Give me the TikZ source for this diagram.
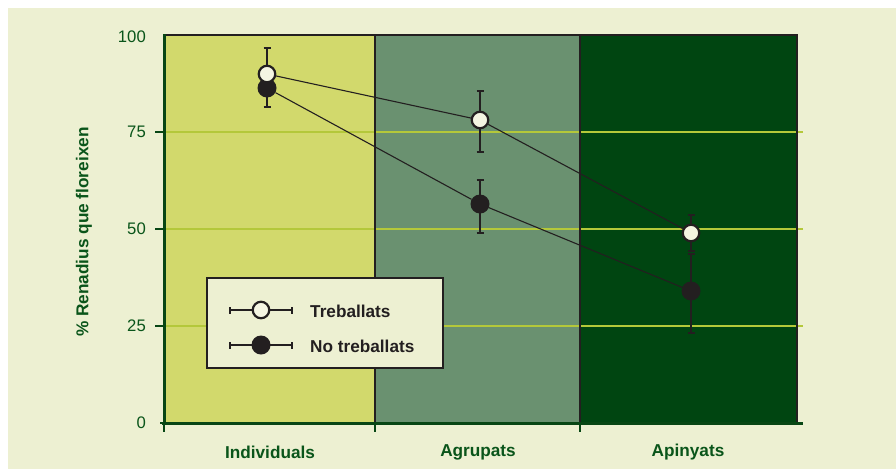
\documentclass[tikz,border=0pt]{standalone}
\usepackage{fontspec}
\setmainfont{Liberation Sans}
\definecolor{bgc}{RGB}{237,240,210}
\definecolor{yelp}{RGB}{210,217,108}
\definecolor{midp}{RGB}{106,145,112}
\definecolor{darkp}{RGB}{0,69,17}
\definecolor{gridc}{RGB}{180,200,58}
\definecolor{txtg}{RGB}{10,85,26}
\definecolor{axg}{RGB}{8,70,20}
\definecolor{ink}{RGB}{35,31,32}
\definecolor{mwhite}{RGB}{244,245,226}
\tikzset{
  openmark/.style={circle,draw=ink,line width=2.2pt,fill=mwhite,minimum size=16.5pt,inner sep=0pt},
  fullmark/.style={circle,fill=ink,minimum size=19pt,inner sep=0pt},
  series/.style={draw=ink,line width=1.1pt},
  errbar/.style={draw=ink,line width=1.3pt},
  gridline/.style={draw=gridc,line width=1.8pt},
  border/.style={draw=ink,line width=2.6pt},
  ticklab/.style={font=\fontsize{16.7}{18}\selectfont,text=txtg,anchor=east,inner sep=0pt},
  catlab/.style={font=\fontsize{17.2}{19}\selectfont\bfseries,text=txtg,inner sep=0pt},
  leglab/.style={font=\fontsize{17.2}{19}\selectfont\bfseries,text=ink,anchor=west,inner sep=0pt}
}
\newcommand{\ebar}[3]{%
  \draw[errbar] (#1,#2) -- (#1,#3);
  \draw[errbar] (#1-3.5,#2) -- (#1+3.5,#2);
  \draw[errbar] (#1-3.5,#3) -- (#1+3.5,#3);}
\begin{document}
\begin{tikzpicture}[x=1pt,y=-1pt]
\useasboundingbox (0,0) rectangle (896,469);
\fill[white] (0,0) rectangle (896,469);
\fill[bgc] (8,8) rectangle (896,469);
% panels
\fill[yelp] (164,35) rectangle (375,423);
\fill[midp] (375,35) rectangle (580,423);
\fill[darkp] (580,35) rectangle (797,423);
% grid lines
\foreach \yy in {132,229,326} \draw[gridline] (164,\yy) -- (803,\yy);
% borders
\draw[border] (164,35) -- (798,35);
\draw[border] (375,35) -- (375,423);
\draw[border] (580,35) -- (580,423);
\draw[border] (797,35) -- (797,423);
\draw[axg,line width=3pt] (164,34) -- (164,424);
\draw[axg,line width=3pt] (162,423) -- (803,423);
% ticks
\foreach \yy in {132,229,326} \draw[axg,line width=1.2pt] (155,\yy) -- (164,\yy);
\draw[axg,line width=1.2pt] (160,423) -- (164,423);
\foreach \xx in {164,375,580} \draw[axg,line width=1.2pt] (\xx,423) -- (\xx,432);
% tick labels
\node[ticklab] (t0) at (146,423) {0};
\node[ticklab] (t25) at (146,326) {25};
\node[ticklab] (t50) at (146,229) {50};
\node[ticklab] (t75) at (146,132) {75};
\node[ticklab] (t100) at (146,37) {100};
% axis label
\node[catlab,rotate=90] (ylab) at (84,232) {\% Renadius que floreixen};
% category labels
\node[catlab] (c1) at (270,452) {Individuals};
\node[catlab] (c2) at (478,452) {Agrupats};
\node[catlab] (c3) at (688,452) {Apinyats};
% error bars
\ebar{267}{48}{74}
\ebar{267}{88}{107}
\ebar{480}{91}{152}
\ebar{480}{180}{233}
\ebar{691}{215}{251}
\ebar{691}{254}{333}
% markers
\node[fullmark] (n1) at (267,88) {};
\node[fullmark] (n2) at (480,204) {};
\node[fullmark] (n3) at (691,291) {};
\node[openmark] (w1) at (267,74) {};
\node[openmark] (w2) at (480,120) {};
\node[openmark] (w3) at (691,233) {};
\draw[series] (n1) -- (n2) -- (n3);
\draw[series] (w1) -- (w2) -- (w3);
% legend
\draw[fill=bgc,draw=ink,line width=2.4pt] (207,278) rectangle (443,368);
\coordinate (la1) at (230,310); \coordinate (lb1) at (292,310);
\coordinate (la2) at (230,345); \coordinate (lb2) at (292,345);
\draw[series] (la1) -- (lb1);
\draw[series] (la2) -- (lb2);
\foreach \c in {la1,lb1,la2,lb2} \draw[ink,line width=1.1pt] ([yshift=-3.5pt]\c) -- ([yshift=3.5pt]\c);
\node[openmark] (lw) at (261,310) {};
\node[fullmark] (ln) at (261,345) {};
\node[leglab] (l1) at (310,311) {Treballats};
\node[leglab] (l2) at (310,346) {No treballats};
\end{tikzpicture}
\end{document}
